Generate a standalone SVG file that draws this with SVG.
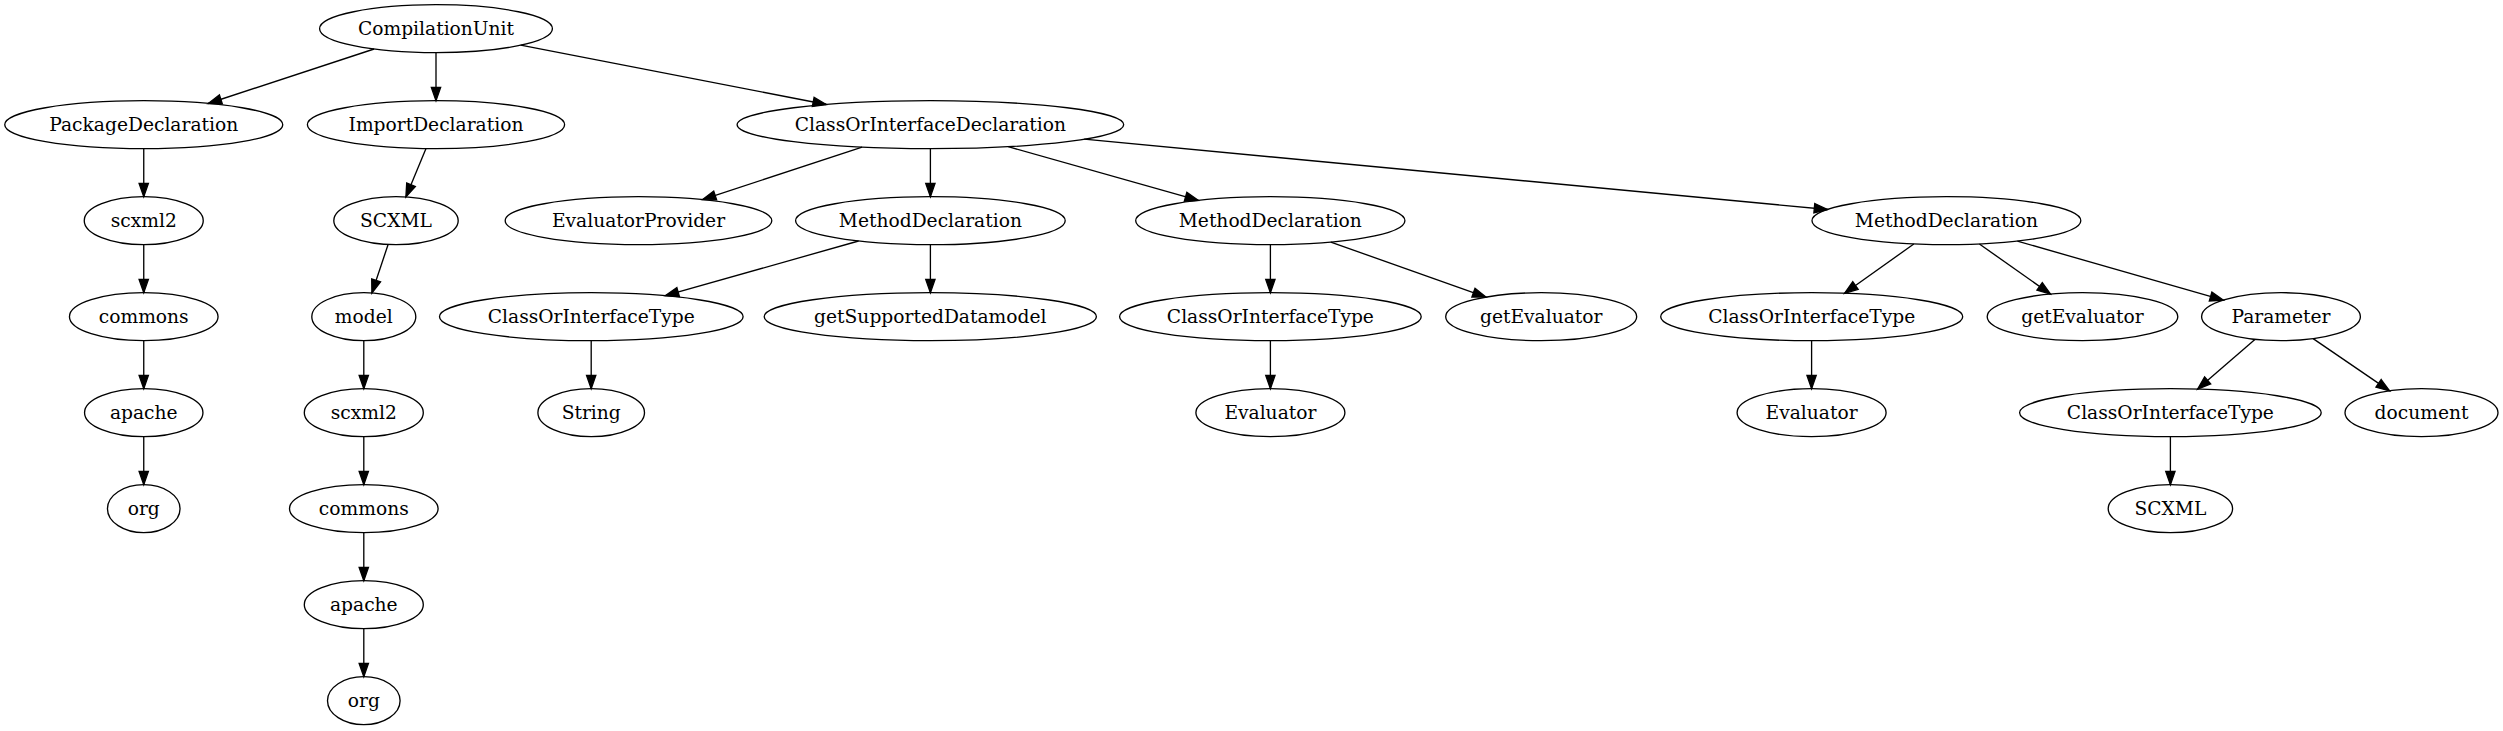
<svg xmlns="http://www.w3.org/2000/svg" width="2503" height="731" viewBox="0 0 2503 731">
<style>
.n ellipse{fill:none;stroke:#000;stroke-width:1.33}
.n text{font-family:"DejaVu Serif","Liberation Serif",serif;font-size:18.67px;text-anchor:middle;fill:#000}
.e line{stroke:#000;stroke-width:1.33;marker-end:url(#a)}
</style>
<defs>
<marker id="a" markerUnits="userSpaceOnUse" markerWidth="14" markerHeight="10" refX="13.33" refY="4.67" orient="auto" overflow="visible">
<path d="M0,0 L13.33,4.67 L0,9.33 z" fill="#000" stroke="#000" stroke-width="1.33"/>
</marker>
</defs>
<rect width="2503" height="731" fill="#fff"/>
<g id="edges" class="e">
<line x1="374.1" y1="49.0" x2="208.2" y2="103.5"/>
<line x1="436" y1="52.7" x2="436" y2="100.7"/>
<line x1="520.7" y1="45.2" x2="826.3" y2="104.5"/>
<line x1="143.75" y1="148.7" x2="143.75" y2="196.7"/>
<line x1="143.75" y1="244.7" x2="143.75" y2="292.7"/>
<line x1="143.75" y1="340.7" x2="143.75" y2="388.7"/>
<line x1="143.75" y1="436.7" x2="143.75" y2="484.7"/>
<line x1="426.0" y1="148.6" x2="405.9" y2="197.0"/>
<line x1="388.1" y1="244.5" x2="371.9" y2="293.0"/>
<line x1="363.8" y1="340.7" x2="363.8" y2="388.7"/>
<line x1="363.8" y1="436.7" x2="363.8" y2="484.7"/>
<line x1="363.8" y1="532.7" x2="363.8" y2="580.7"/>
<line x1="363.8" y1="628.7" x2="363.8" y2="676.7"/>
<line x1="862.1" y1="147.2" x2="702.5" y2="199.6"/>
<line x1="930.4" y1="148.7" x2="930.4" y2="196.7"/>
<line x1="1008.2" y1="146.7" x2="1198.4" y2="200.4"/>
<line x1="1084.2" y1="139.2" x2="1827.6" y2="209.5"/>
<line x1="858.6" y1="241.0" x2="665.3" y2="295.7"/>
<line x1="930.4" y1="244.7" x2="930.4" y2="292.7"/>
<line x1="591.2" y1="340.7" x2="591.2" y2="388.7"/>
<line x1="1270.4" y1="244.7" x2="1270.4" y2="292.7"/>
<line x1="1330.8" y1="242.1" x2="1486.0" y2="297.1"/>
<line x1="1270.4" y1="340.7" x2="1270.4" y2="388.7"/>
<line x1="1913.8" y1="244.0" x2="1844.6" y2="293.3"/>
<line x1="1979.4" y1="244.0" x2="2050.5" y2="294.1"/>
<line x1="2017.4" y1="241.1" x2="2223.4" y2="300.2"/>
<line x1="1811.6" y1="340.7" x2="1811.6" y2="388.7"/>
<line x1="2254.9" y1="339.4" x2="2197.6" y2="389.1"/>
<line x1="2313.1" y1="338.6" x2="2389.6" y2="390.9"/>
<line x1="2170.4" y1="436.7" x2="2170.4" y2="484.7"/>
</g>
<g id="n1" class="n"><ellipse cx="436" cy="28.7" rx="116.4" ry="24"/><text x="436" y="34.7">CompilationUnit</text></g>
<g id="n2" class="n"><ellipse cx="143.75" cy="124.7" rx="139" ry="24"/><text x="143.75" y="130.7">PackageDeclaration</text></g>
<g id="n3" class="n"><ellipse cx="436" cy="124.7" rx="128.6" ry="24"/><text x="436" y="130.7">ImportDeclaration</text></g>
<g id="n4" class="n"><ellipse cx="930.4" cy="124.7" rx="193.3" ry="24"/><text x="930.4" y="130.7">ClassOrInterfaceDeclaration</text></g>
<g id="n5" class="n"><ellipse cx="143.75" cy="220.7" rx="59.5" ry="24"/><text x="143.75" y="226.7">scxml2</text></g>
<g id="n6" class="n"><ellipse cx="143.75" cy="316.7" rx="74.3" ry="24"/><text x="143.75" y="322.7">commons</text></g>
<g id="n7" class="n"><ellipse cx="143.75" cy="412.7" rx="59.2" ry="24"/><text x="143.75" y="418.7">apache</text></g>
<g id="n8" class="n"><ellipse cx="143.75" cy="508.7" rx="36.3" ry="24"/><text x="143.75" y="514.7">org</text></g>
<g id="n9" class="n"><ellipse cx="396" cy="220.7" rx="62.2" ry="24"/><text x="396" y="226.7">SCXML</text></g>
<g id="n10" class="n"><ellipse cx="363.8" cy="316.7" rx="52" ry="24"/><text x="363.8" y="322.7">model</text></g>
<g id="n11" class="n"><ellipse cx="363.8" cy="412.7" rx="59.5" ry="24"/><text x="363.8" y="418.7">scxml2</text></g>
<g id="n12" class="n"><ellipse cx="363.8" cy="508.7" rx="74.3" ry="24"/><text x="363.8" y="514.7">commons</text></g>
<g id="n13" class="n"><ellipse cx="363.8" cy="604.7" rx="59.5" ry="24"/><text x="363.8" y="610.7">apache</text></g>
<g id="n14" class="n"><ellipse cx="363.8" cy="700.7" rx="36.3" ry="24"/><text x="363.8" y="706.7">org</text></g>
<g id="n15" class="n"><ellipse cx="638.5" cy="220.7" rx="133.3" ry="24"/><text x="638.5" y="226.7">EvaluatorProvider</text></g>
<g id="n16" class="n"><ellipse cx="930.4" cy="220.7" rx="134.8" ry="24"/><text x="930.4" y="226.7">MethodDeclaration</text></g>
<g id="n17" class="n"><ellipse cx="1270.3" cy="220.7" rx="134.6" ry="24"/><text x="1270.3" y="226.7">MethodDeclaration</text></g>
<g id="n18" class="n"><ellipse cx="1946.4" cy="220.7" rx="134.4" ry="24"/><text x="1946.4" y="226.7">MethodDeclaration</text></g>
<g id="n19" class="n"><ellipse cx="591.3" cy="316.7" rx="151.8" ry="24"/><text x="591.3" y="322.7">ClassOrInterfaceType</text></g>
<g id="n20" class="n"><ellipse cx="930.3" cy="316.7" rx="166.1" ry="24"/><text x="930.3" y="322.7">getSupportedDatamodel</text></g>
<g id="n21" class="n"><ellipse cx="591.2" cy="412.7" rx="53.3" ry="24"/><text x="591.2" y="418.7">String</text></g>
<g id="n22" class="n"><ellipse cx="1270.4" cy="316.7" rx="150.8" ry="24"/><text x="1270.4" y="322.7">ClassOrInterfaceType</text></g>
<g id="n23" class="n"><ellipse cx="1541.2" cy="316.7" rx="95.5" ry="24"/><text x="1541.2" y="322.7">getEvaluator</text></g>
<g id="n24" class="n"><ellipse cx="1270.4" cy="412.7" rx="74.5" ry="24"/><text x="1270.4" y="418.7">Evaluator</text></g>
<g id="n25" class="n"><ellipse cx="1811.7" cy="316.7" rx="151" ry="24"/><text x="1811.7" y="322.7">ClassOrInterfaceType</text></g>
<g id="n26" class="n"><ellipse cx="2082.5" cy="316.7" rx="95.3" ry="24"/><text x="2082.5" y="322.7">getEvaluator</text></g>
<g id="n27" class="n"><ellipse cx="2281" cy="316.7" rx="79.4" ry="24"/><text x="2281" y="322.7">Parameter</text></g>
<g id="n28" class="n"><ellipse cx="1811.6" cy="412.7" rx="74.5" ry="24"/><text x="1811.6" y="418.7">Evaluator</text></g>
<g id="n29" class="n"><ellipse cx="2170.4" cy="412.7" rx="150.8" ry="24"/><text x="2170.4" y="418.7">ClassOrInterfaceType</text></g>
<g id="n30" class="n"><ellipse cx="2421.5" cy="412.7" rx="76.5" ry="24"/><text x="2421.5" y="418.7">document</text></g>
<g id="n31" class="n"><ellipse cx="2170.4" cy="508.7" rx="62.2" ry="24"/><text x="2170.4" y="514.7">SCXML</text></g>
</svg>
